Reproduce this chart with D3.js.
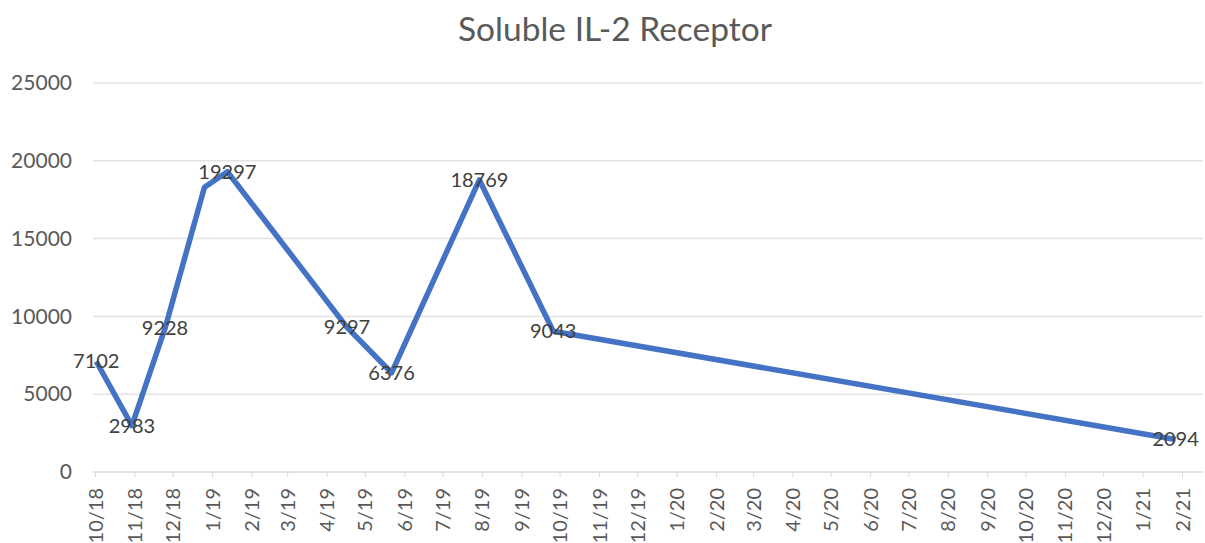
<!DOCTYPE html>
<html>
<head>
<meta charset="utf-8">
<script src="https://d3js.org/d3.v7.min.js"></script>
<style>
  body { margin: 0; background: #fff; }
  svg { display: block; }
</style>
</head>
<body>
<script>
// Data
var dates = ["2018-10-02", "2018-10-30", "2018-11-25", "2018-12-26", "2019-01-13",
             "2019-04-17", "2019-05-22", "2019-07-30", "2019-09-26", "2021-01-27"];
var values = [7102, 2983, 9228, 18300, 19297, 9297, 6376, 18769, 9043, 2094];
// labels shown on the points (the one next to the peak has none)
var pointLabels = ["7102", "2983", "9228", null, "19297", "9297", "6376", "18769", "9043", "2094"];
var yTicks = [0, 5000, 10000, 15000, 20000, 25000];
var axisStart = "2018-10-01", axisEnd = "2021-02-01";

var parse = d3.timeParse("%Y-%m-%d");
var data = dates.map(function(d, i) {
    return { date: parse(d), value: values[i], label: pointLabels[i] };
});

var width = 1205, height = 543;
var font = "Lato, 'Open Sans', sans-serif";

// Create svg container
var svg = d3.select("body").append("svg").attr("width", width).attr("height", height);

// Scales
var x = d3.scaleTime().domain([parse(axisStart), parse(axisEnd)]).range([95, 1182]);
var y = d3.scaleLinear().domain([0, 25000]).range([472, 83]);
var plotLeft = 93, plotRight = 1203;

// Title
svg.append("text").text("Soluble IL-2 Receptor")
    .attr("x", 615).attr("y", 41)
    .attr("text-anchor", "middle")
    .style("font-family", font).style("font-size", "33.5px").style("fill", "#595959");

// Gridlines
svg.append("g").selectAll("line").data(yTicks.slice(1)).enter().append("line")
    .attr("x1", plotLeft).attr("x2", plotRight)
    .attr("y1", function(d) { return y(d); }).attr("y2", function(d) { return y(d); })
    .attr("stroke", "#e3e3e3").attr("stroke-width", 1.5);

// Y-axis labels
var yAxis = svg.append("g").attr("transform", "translate(72, 0)")
    .call(d3.axisLeft(y).tickValues(yTicks).tickSize(0).tickPadding(0).tickFormat(d3.format("d")));
yAxis.select(".domain").remove();
yAxis.selectAll("text").style("font-family", font).style("font-size", "21px").style("fill", "#595959");

// X-axis line
svg.append("line").attr("x1", plotLeft).attr("x2", plotRight)
    .attr("y1", y(0)).attr("y2", y(0))
    .attr("stroke", "#d9d9d9").attr("stroke-width", 1.5);

// X-axis ticks and labels
var xAxis = svg.append("g").attr("transform", "translate(0," + y(0) + ")")
    .call(d3.axisBottom(x).ticks(d3.timeMonth.every(1)).tickFormat(d3.timeFormat("%-m/%y")).tickSize(5).tickPadding(0));
xAxis.select(".domain").remove();
xAxis.selectAll(".tick line").attr("stroke", "#d9d9d9");
xAxis.selectAll("text")
    .attr("transform", "rotate(-90)")
    .attr("x", -16).attr("y", 0).attr("dy", "0.35em")
    .attr("text-anchor", "end")
    .style("font-family", font).style("font-size", "20px").style("fill", "#595959");

// Line
var line = d3.line().x(function(d) { return x(d.date); }).y(function(d) { return y(d.value); });
svg.append("path").datum(data)
    .attr("d", line)
    .attr("fill", "none")
    .attr("stroke", "#4472c4")
    .attr("stroke-width", 5.5)
    .attr("stroke-linejoin", "round");

// Data labels
svg.append("g").selectAll("text").data(data.filter(function(d) { return d.label; })).enter().append("text")
    .text(function(d) { return d.label; })
    .attr("x", function(d) { return x(d.date); })
    .attr("y", function(d) { return y(d.value); })
    .attr("dy", "0.35em")
    .attr("text-anchor", "middle")
    .style("font-family", font).style("font-size", "20px").style("fill", "#404040");
</script>
</body>
</html>
